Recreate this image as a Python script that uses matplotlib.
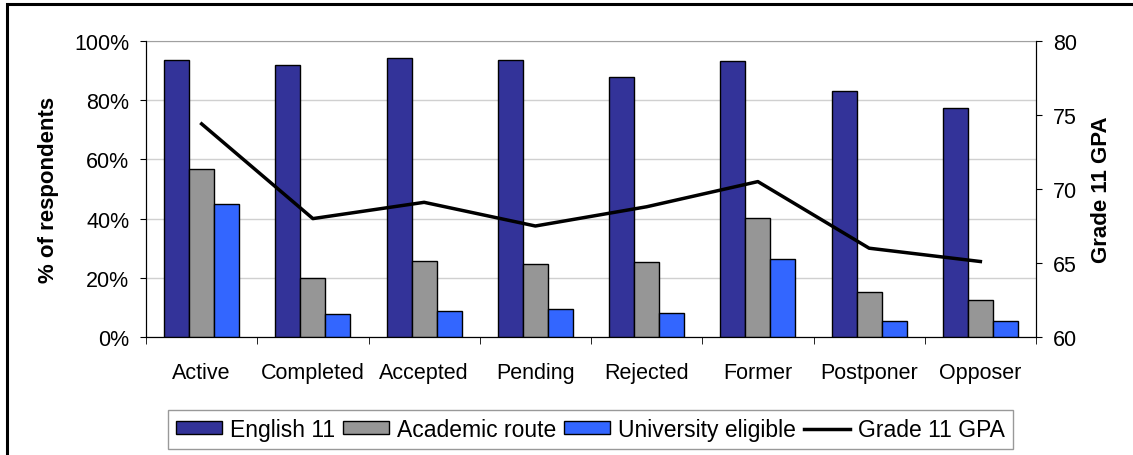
import matplotlib
matplotlib.use("Agg")
import matplotlib.pyplot as plt
import numpy as np
from matplotlib.patches import Rectangle
from matplotlib.ticker import FuncFormatter, FixedLocator

plt.rcParams['font.family'] = ['Liberation Sans', 'DejaVu Sans']

categories = ["Active", "Completed", "Accepted", "Pending", "Rejected", "Former", "Postponer", "Opposer"]
english_11 = [93.6, 91.9, 94.3, 93.6, 87.8, 93.2, 83.1, 77.4]
academic_route = [56.8, 19.9, 25.7, 24.7, 25.3, 40.2, 15.2, 12.5]
university_eligible = [44.9, 7.8, 8.8, 9.5, 8.1, 26.4, 5.4, 5.4]
grade11_gpa = [74.4, 68.0, 69.1, 67.5, 68.8, 70.5, 66.0, 65.1]

W, H = 1133, 456
fig = plt.figure(figsize=(W / 100, H / 100), dpi=100)
ax = fig.add_axes([146 / W, 1 - 338 / H, (1036 - 146) / W, (338 - 42) / H])

FS = 15.5
x = np.arange(len(categories))
w = 0.225
ax.bar(x - w, english_11, w, color="#333399", edgecolor="black", linewidth=1, label="English 11", zorder=3)
ax.bar(x, academic_route, w, color="#969696", edgecolor="black", linewidth=1, label="Academic route", zorder=3)
ax.bar(x + w, university_eligible, w, color="#3366FF", edgecolor="black", linewidth=1, label="University eligible", zorder=3)

ax.set_xlim(-0.5, len(categories) - 0.5)
ax.set_ylim(0, 100)
ax.yaxis.set_major_locator(FixedLocator([0, 20, 40, 60, 80, 100]))
ax.yaxis.set_major_formatter(FuncFormatter(lambda v, p: f"{int(v)}%"))
ax.grid(axis="y", color="#d0d0d0", linewidth=1, zorder=0)
ax.set_xticks(x)
ax.set_xticklabels(categories, fontsize=FS)
ax.set_xticks(np.arange(len(categories) + 1) - 0.5, minor=True)
ax.tick_params(axis="x", which="major", length=0, pad=18)
ax.tick_params(axis="x", which="minor", length=5, direction="out", color="black")
ax.tick_params(axis="y", labelsize=FS, length=4, direction="out", pad=8)
ax.set_ylabel("% of respondents", fontsize=16, fontweight="bold", labelpad=11)
ax.spines["top"].set_color("#a0a0a0")
for s in ("left", "bottom", "right"):
    ax.spines[s].set_color("black")

ax2 = ax.twinx()
ax2.plot(x, grade11_gpa, color="black", linewidth=2.5, label="Grade 11 GPA", zorder=4)
ax2.set_ylim(60, 80)
ax2.yaxis.set_major_locator(FixedLocator([60, 65, 70, 75, 80]))
ax2.tick_params(axis="y", labelsize=FS, length=4, direction="out", pad=8)
ax2.set_ylabel("Grade 11 GPA", fontsize=16, fontweight="bold", labelpad=10)
ax2.spines["top"].set_visible(False)

h1, l1 = ax.get_legend_handles_labels()
h2, l2 = ax2.get_legend_handles_labels()
leg = fig.legend(h1 + h2, l1 + l2, loc="center", bbox_to_anchor=(590.5 / W, 1 - 430.5 / H), ncol=4,
                 fontsize=16.5, frameon=True, fancybox=False, edgecolor="#808080",
                 handlelength=2.0, handleheight=0.5, handletextpad=0.35, columnspacing=0.35,
                 borderpad=0.35, borderaxespad=0)
leg.get_frame().set_linewidth(1)

fig.patches.append(Rectangle((7 / W, -0.1), 1.2, 1.1 - 5 / H, transform=fig.transFigure,
                             fill=False, edgecolor="black", linewidth=2.2))

fig.savefig("out.png", dpi=100)
